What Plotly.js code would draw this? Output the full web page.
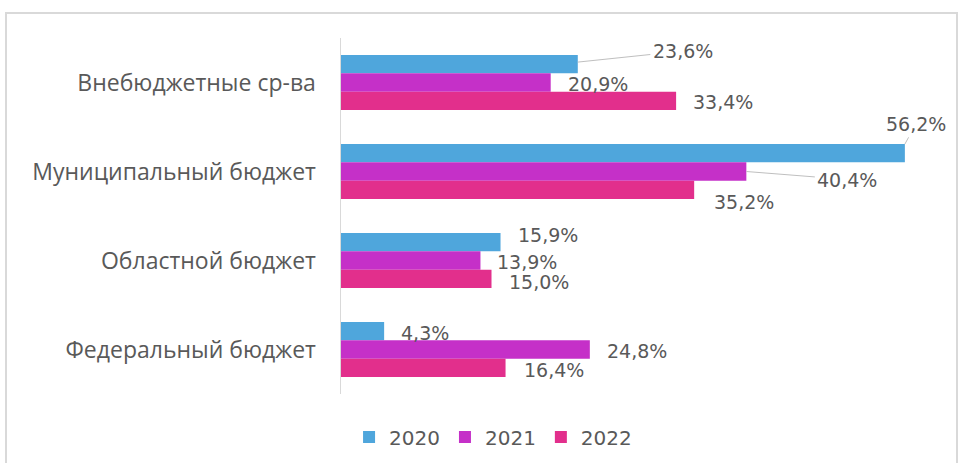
<!DOCTYPE html>
<html>
<head>
<meta charset="utf-8">
<script src="https://cdn.plot.ly/plotly-3.0.1.min.js"></script>
<style>
  html, body { margin: 0; padding: 0; background: #ffffff; }
  #wrap { position: relative; width: 963px; height: 463px; overflow: hidden; }
  #chart { position: absolute; left: 0; top: 0; width: 963px; height: 463px; }
  #frame { position: absolute; left: 5px; top: 12px; width: 953px; height: 470px;
           border: 2px solid #D9D9D9; box-sizing: border-box; pointer-events: none; }
</style>
</head>
<body>
<div id="wrap">
  <div id="chart"></div>
  <div id="frame"></div>
</div>
<script>
// ---- data ----
const categories = ['Внебюджетные ср-ва', 'Муниципальный бюджет', 'Областной бюджет', 'Федеральный бюджет'];
const seriesNames = ['2020', '2021', '2022'];
const values2020 = [23.6, 56.2, 15.9, 4.3];
const values2021 = [20.9, 40.4, 13.9, 24.8];
const values2022 = [33.4, 35.2, 15.0, 16.4];

// ---- styles ----
const colors = ['#4FA6DC', '#C530C8', '#E22F8C'];
const textColor = '#595959';
const labelFont = { family: 'DejaVu Sans, Verdana, sans-serif', size: 19, color: textColor };

// label placement (pixel offsets; style only)
const labelPlacement = [
  // 2020
  [ {mode:'leader', ax:105, ay:-11, py:-2}, {mode:'leader', ax:11, ay:-20, py:-9}, {mode:'plain', xs:16, dy:-7}, {mode:'plain', xs:16, dy:2} ],
  // 2021
  [ {mode:'plain', xs:16, dy:1}, {mode:'leader', ax:101, ay:8, py:0}, {mode:'plain', xs:16, dy:1}, {mode:'plain', xs:16, dy:1.5} ],
  // 2022
  [ {mode:'plain', xs:16, dy:1.5}, {mode:'plain', xs:19, dy:12.5}, {mode:'plain', xs:16, dy:3}, {mode:'plain', xs:17, dy:2} ]
];

const allValues = [values2020, values2021, values2022];
const barPx = 18.4;

function fmt(v) { return v.toFixed(1).replace('.', ',') + '%'; }

const traces = allValues.map((vals, i) => ({
  type: 'bar',
  orientation: 'h',
  name: seriesNames[i],
  y: categories,
  x: vals,
  marker: { color: colors[i], line: { width: 0 } },
  hoverinfo: 'skip'
}));

const annotations = [];
allValues.forEach((vals, i) => {
  const seriesShift = (1 - i) * barPx;
  vals.forEach((v, j) => {
    const p = labelPlacement[i][j];
    if (p.mode === 'plain') {
      annotations.push({
        x: v, y: categories[j], xref: 'x', yref: 'y',
        text: fmt(v), showarrow: false,
        xanchor: 'left', yanchor: 'middle',
        xshift: p.xs, yshift: seriesShift - p.dy,
        borderpad: 0,
        font: labelFont
      });
    } else {
      annotations.push({
        x: v, y: categories[j], xref: 'x', yref: 'y',
        text: fmt(v), showarrow: true,
        arrowhead: 0, arrowwidth: 1, arrowcolor: '#BFBFBF',
        ax: p.ax, ay: p.ay, axref: 'pixel', ayref: 'pixel',
        yshift: seriesShift - p.py,
        standoff: 0, startstandoff: 2,
        borderpad: 0,
        font: labelFont
      });
    }
  });
});

const layout = {
  width: 963, height: 463,
  margin: { l: 341, r: 20, t: 38, b: 69 },
  paper_bgcolor: 'rgba(0,0,0,0)',
  plot_bgcolor: 'rgba(0,0,0,0)',
  barmode: 'group',
  bargap: 0.38,
  bargroupgap: 0,
  showlegend: true,
  legend: {
    orientation: 'h',
    xref: 'container', yref: 'container',
    x: 0.512, xanchor: 'center',
    y: 0.056, yanchor: 'middle',
    font: { family: 'DejaVu Sans, Verdana, sans-serif', size: 20, color: textColor },
    itemclick: false
  },
  xaxis: {
    range: [0, 60],
    showgrid: false, zeroline: false, showline: false,
    showticklabels: false, ticks: ''
  },
  yaxis: {
    type: 'category',
    autorange: 'reversed',
    showgrid: false, zeroline: false,
    showline: true, linecolor: '#D9D9D9', linewidth: 1.5,
    ticks: '',
    ticklabelstandoff: 19,
    tickfont: { family: 'Open Sans, sans-serif', size: 23, color: textColor }
  },
  annotations: annotations
};

Plotly.newPlot('chart', traces, layout, { displayModeBar: false, staticPlot: true });
</script>
</body>
</html>
